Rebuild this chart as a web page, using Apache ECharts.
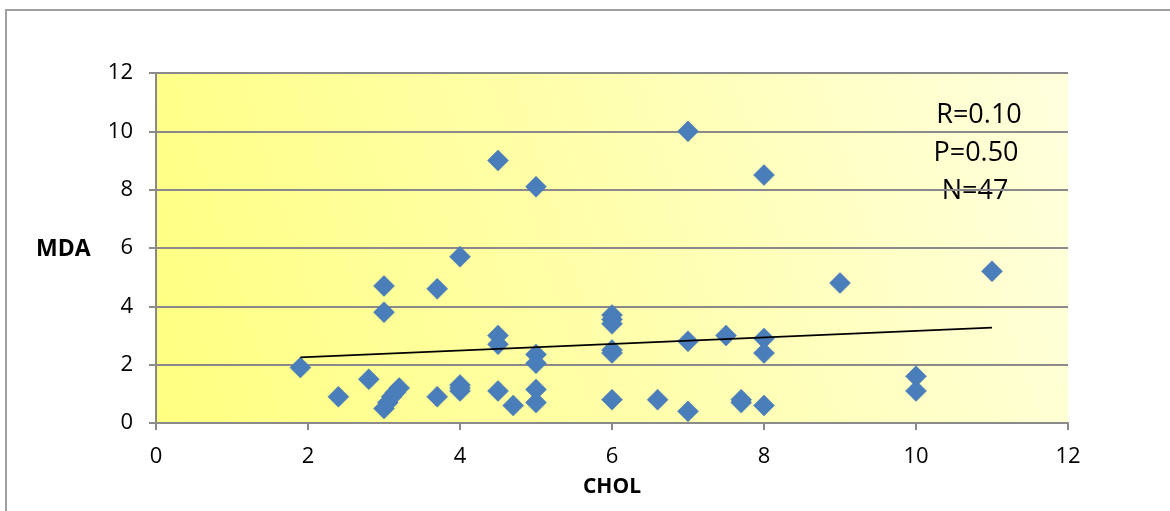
<!DOCTYPE html>
<html>
<head>
<meta charset="utf-8">
<script src="https://cdn.jsdelivr.net/npm/echarts@6/dist/echarts.min.js"></script>
<style>
html,body{margin:0;padding:0;background:#fff;}
#chart{width:1170px;height:511px;}
</style>
</head>
<body>
<div id="chart"></div>
<script>
// CHOL (x) and MDA (y) values
var cholValues = [1.9, 2.4, 2.8, 3.0, 3.0, 3.0, 3.05, 3.1, 3.2, 3.7, 3.7, 4.0, 4.0, 4.0,
  4.5, 4.5, 4.5, 4.5, 4.7, 5.0, 5.0, 5.0, 5.0, 5.0, 6.0, 6.0, 6.0, 6.0, 6.0, 6.0,
  6.6, 7.0, 7.0, 7.0, 7.5, 7.7, 7.7, 8.0, 8.0, 8.0, 8.0, 9.0, 10.0, 10.0, 11.0, 3.15, 4.0];
var mdaValues = [1.9, 0.9, 1.5, 4.7, 3.8, 0.5, 0.7, 0.9, 1.2, 0.9, 4.6, 5.7, 1.3, 1.1,
  9.0, 3.0, 2.7, 1.1, 0.6, 8.1, 2.35, 2.05, 1.15, 0.7, 3.7, 3.55, 3.4, 2.5, 2.4, 0.8,
  0.8, 0.4, 2.8, 10.0, 3.0, 0.8, 0.7, 0.6, 2.9, 2.4, 8.5, 4.8, 1.6, 1.1, 5.2, 1.05, 1.2];
// trend line end points
var trendX = [1.9, 11.0];
var trendY = [2.25, 3.27];
var xTicks = [0, 2, 4, 6, 8, 10, 12];
var yTicks = [0, 2, 4, 6, 8, 10, 12];
var statLines = ['R=0.10', 'P=0.50', 'N=47'];

var points = cholValues.map(function (x, i) { return [x, mdaValues[i]]; });
var trend = trendX.map(function (x, i) { return [x, trendY[i]]; });

var chart = echarts.init(document.getElementById('chart'), null, {renderer: 'canvas'});
var fontFam = '"Open Sans", "Liberation Sans", sans-serif';
var option = {
  backgroundColor: '#ffffff',
  animation: false,
  grid: {
    left: 156, top: 73, right: 102, bottom: 88,
    show: true,
    borderWidth: 0,
    backgroundColor: new echarts.graphic.LinearGradient(0, 1, 1, 0.2, [
      {offset: 0, color: '#FFFF80'},
      {offset: 0.5, color: '#FFFFAC'},
      {offset: 1, color: '#FFFFDC'}
    ])
  },
  xAxis: {
    type: 'value', min: xTicks[0], max: xTicks[xTicks.length - 1], interval: 2,
    name: 'CHOL', nameLocation: 'middle', nameGap: 54,
    nameTextStyle: {fontFamily: fontFam, fontWeight: 'bold', fontSize: 21, color: '#000'},
    axisLine: {show: true, lineStyle: {color: '#8a8a8a', width: 2}},
    axisTick: {show: true, inside: false, length: 7, lineStyle: {color: '#8a8a8a', width: 2}},
    axisLabel: {fontFamily: fontFam, fontSize: 22, color: '#000', margin: 23},
    splitLine: {show: false}
  },
  yAxis: {
    type: 'value', min: yTicks[0], max: yTicks[yTicks.length - 1], interval: 2,
    axisLine: {show: true, lineStyle: {color: '#8a8a8a', width: 2}},
    axisTick: {show: true, inside: false, length: 7, lineStyle: {color: '#8a8a8a', width: 2}},
    axisLabel: {fontFamily: fontFam, fontSize: 22, color: '#000', margin: 23},
    splitLine: {show: true, lineStyle: {color: '#8a8a8a', width: 2}}
  },
  graphic: [
    {type: 'rect', shape: {x: 6, y: 10, width: 1300, height: 700}, style: {fill: 'none', stroke: '#a0a0a0', lineWidth: 2}, silent: true, z: -1},
    {type: 'text', x: 36, y: 249, style: {text: 'MDA', fontFamily: fontFam, fontWeight: 'bold', fontSize: 23, fill: '#000', verticalAlign: 'middle'}},
    {type: 'text', x: 979, y: 115, style: {text: statLines[0], fontFamily: fontFam, fontSize: 27, fill: '#000', align: 'center', verticalAlign: 'middle'}},
    {type: 'text', x: 976, y: 153, style: {text: statLines[1], fontFamily: fontFam, fontSize: 27, fill: '#000', align: 'center', verticalAlign: 'middle'}},
    {type: 'text', x: 975, y: 191, style: {text: statLines[2], fontFamily: fontFam, fontSize: 27, fill: '#000', align: 'center', verticalAlign: 'middle'}}
  ],
  series: [
    {
      type: 'scatter', data: points, symbol: 'diamond', symbolSize: 21,
      itemStyle: {color: '#4A7EBB', opacity: 1, borderColor: '#4577b3', borderWidth: 0.5}, z: 3
    },
    {
      type: 'line', data: trend, symbol: 'none', silent: true,
      lineStyle: {color: '#000', width: 1.6}, z: 4
    }
  ]
};
chart.setOption(option);
</script>
</body>
</html>
